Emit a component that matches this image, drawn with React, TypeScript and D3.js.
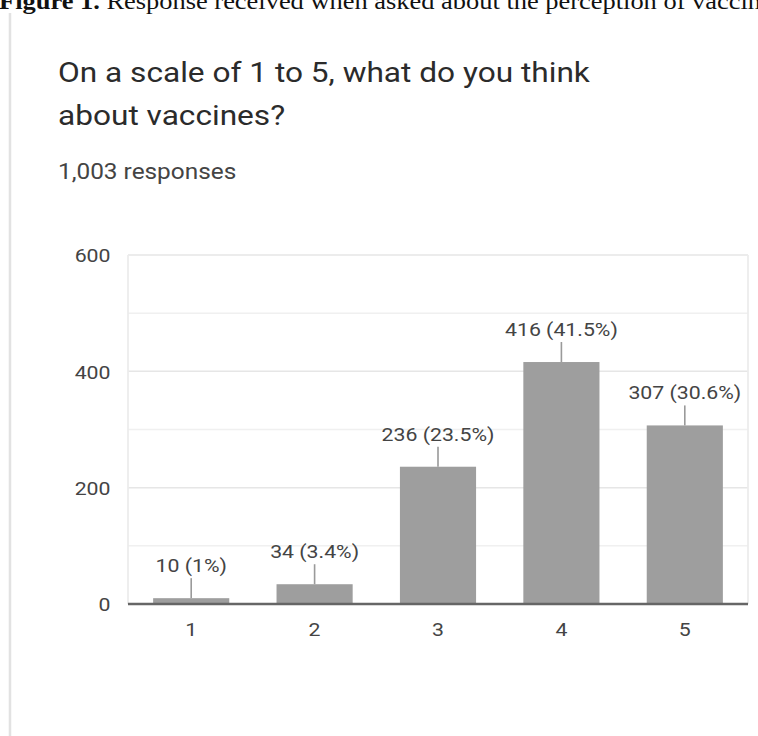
import React from "react";
import * as d3 from "d3";

// ---- data ----
const categories = ["1", "2", "3", "4", "5"];
const counts = [10, 34, 236, 416, 307];
const percentLabels = ["1%", "3.4%", "23.5%", "41.5%", "30.6%"];
const yTickValues = [0, 200, 400, 600];
const titleLines = ["On a scale of 1 to 5, what do you think", "about vaccines?"];
const subtitle = "1,003 responses";
const captionBold = "Figure 1.";
const captionText = " Response received when asked about the perception of vaccines";

// ---- layout (page pixels) ----
const W = 758;
const H = 736;
const SX = 1.15; // the reference is stretched horizontally
const VW = W / SX;
const vx = (x: number) => x / SX;

const plotLeft = 128;
const plotRight = 748;
const plotTop = 255;
const plotBottom = 604;

const FONT = "Roboto, sans-serif";

export default function App() {
  const x = d3
    .scaleBand<string>()
    .domain(categories)
    .range([vx(plotLeft + 1.5), vx(plotRight - 1.5)])
    .paddingInner(0.383)
    .paddingOuter(0.1915);
  const y = d3.scaleLinear().domain([0, 600]).range([plotBottom, plotTop]);
  const gridValues = y.ticks(6);

  return (
    <svg
      width={W}
      height={H}
      viewBox={`0 0 ${VW} ${H}`}
      preserveAspectRatio="none"
      style={{ position: "absolute", left: 0, top: 0, background: "#fff" }}
    >
      {/* caption */}
      <text x={vx(-1)} y={8.5} fontFamily="'Liberation Serif', 'Times New Roman', serif" fontSize={23} fill="#111">
        <tspan fontWeight="bold">{captionBold}</tspan>
        <tspan>{captionText}</tspan>
      </text>

      {/* card left border */}
      <line x1={vx(10)} x2={vx(10)} y1={13} y2={H} stroke="#e2e2e2" strokeWidth={2.2} />

      {/* title */}
      {titleLines.map((t, i) => (
        <text key={t} x={vx(58)} y={82} fontFamily={FONT} fontSize={27.5} fill="#2b2b2b" dy={i * 43}>
          {t}
        </text>
      ))}
      <text x={vx(58)} y={179.5} fontFamily={FONT} fontSize={21.2} fill="#444">
        {subtitle}
      </text>

      {/* gridlines */}
      {gridValues.map((v) => (
        <line
          key={v}
          x1={vx(plotLeft)}
          x2={vx(plotRight)}
          y1={y(v)}
          y2={y(v)}
          stroke={v % 200 === 0 ? "#e6e6e6" : "#f0f0f0"}
          strokeWidth={1.5}
        />
      ))}
      <line x1={vx(plotLeft)} x2={vx(plotLeft)} y1={plotTop} y2={plotBottom} stroke="#ececec" strokeWidth={1.5} />
      <line x1={vx(plotRight)} x2={vx(plotRight)} y1={plotTop} y2={plotBottom} stroke="#ececec" strokeWidth={1.5} />

      {/* y tick labels */}
      {yTickValues.map((v) => (
        <text
          key={v}
          x={vx(110.5)}
          y={y(v) + 7.5}
          textAnchor="end"
          fontFamily={FONT}
          fontSize={18.5}
          fill="#444"
        >
          {v}
        </text>
      ))}

      {/* bars */}
      {categories.map((c, i) => {
        const bx = x(c)!;
        const cx = bx + x.bandwidth() / 2;
        const top = y(counts[i]);
        return (
          <g key={c}>
            <rect x={bx} y={top} width={x.bandwidth()} height={plotBottom - top} fill="#9e9e9e" />
            <line x1={cx} x2={cx} y1={top} y2={top - 20} stroke="#9a9a9a" strokeWidth={1.4} />
            <text x={cx} y={top - 26} textAnchor="middle" fontFamily={FONT} fontSize={18.5} fill="#444">
              {`${counts[i]} (${percentLabels[i]})`}
            </text>
            <text x={cx} y={plotBottom + 32.5} textAnchor="middle" fontFamily={FONT} fontSize={18.5} fill="#444">
              {c}
            </text>
          </g>
        );
      })}

      {/* baseline */}
      <line x1={vx(plotLeft)} x2={vx(plotRight)} y1={y(0)} y2={y(0)} stroke="#666" strokeWidth={2.4} />
    </svg>
  );
}
